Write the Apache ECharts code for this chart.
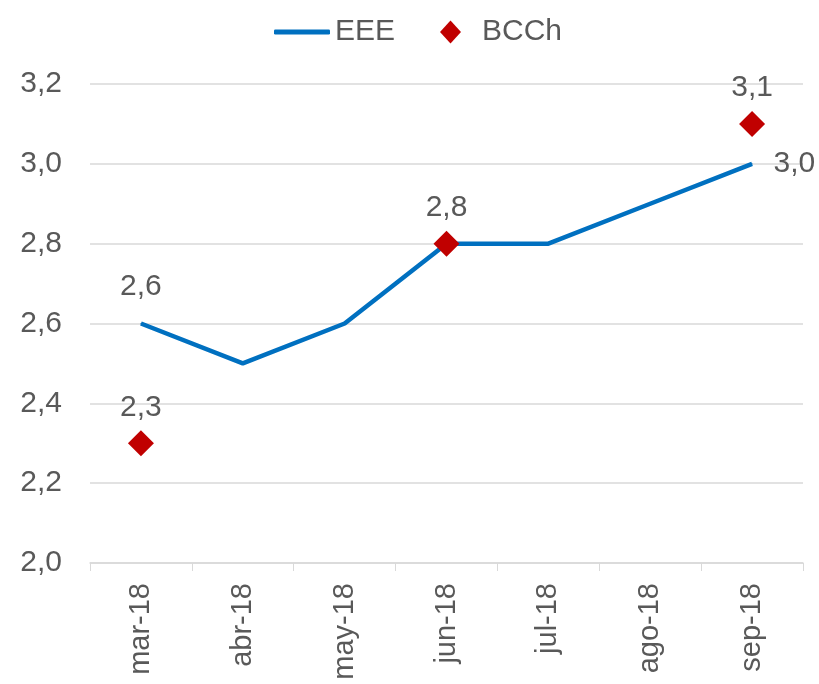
<!DOCTYPE html>
<html>
<head>
<meta charset="utf-8">
<script src="https://cdn.jsdelivr.net/npm/echarts@6/dist/echarts.min.js"></script>
<style>
  html, body { margin: 0; padding: 0; background: #fff; }
  #chart { width: 819px; height: 684px; }
</style>
</head>
<body>
<div id="chart"></div>
<script>
// datos del gráfico
const meses = ['mar-18', 'abr-18', 'may-18', 'jun-18', 'jul-18', 'ago-18', 'sep-18'];
const eee = [2.6, 2.5, 2.6, 2.8, 2.8, 2.9, 3.0];
const bcch = [2.3, null, null, 2.8, null, null, 3.1];
const eeeEtiquetas = [true, false, false, false, false, false, true];

const fuente = 'Liberation Sans, Arial, sans-serif';
const gris = '#595959';
const fmt = (v) => v.toFixed(1).replace('.', ',');

const chart = echarts.init(document.getElementById('chart'));

const option = {
  animation: false,
  textStyle: { fontFamily: fuente },
  legend: [
    {
      left: 269,
      top: 12,
      itemWidth: 56,
      itemHeight: 5,
      textStyle: { fontSize: 30, color: gris, fontFamily: fuente },
      data: [{ name: 'EEE', icon: 'roundRect' }]
    },
    {
      left: 435,
      top: 12,
      itemWidth: 21,
      itemHeight: 23,
      textStyle: { fontSize: 30, color: gris, fontFamily: fuente, padding: [0, 0, 0, 16] },
      data: [{ name: 'BCCh', icon: 'diamond' }]
    }
  ],
  grid: { left: 90, right: 16, top: 84, bottom: 121 },
  xAxis: {
    type: 'category',
    data: meses,
    boundaryGap: true,
    axisLine: { lineStyle: { color: '#d9d9d9', width: 1.5 } },
    axisTick: { show: true, length: 8, lineStyle: { color: '#d9d9d9' } },
    axisLabel: {
      rotate: 90,
      margin: 20,
      fontSize: 29,
      color: gris,
      fontFamily: fuente
    }
  },
  yAxis: {
    type: 'value',
    min: 2.0,
    max: 3.2,
    interval: 0.2,
    axisLine: { show: false },
    axisTick: { show: false },
    splitLine: { lineStyle: { color: '#d9d9d9', width: 1.5 } },
    axisLabel: {
      fontSize: 30,
      color: gris,
      margin: 28,
      fontFamily: fuente,
      formatter: (v) => fmt(v)
    }
  },
  series: [
    {
      name: 'EEE',
      type: 'line',
      data: eee.map((v, i) => ({
        value: v,
        label: eeeEtiquetas[i] ? {
          show: true,
          position: i === meses.length - 1 ? 'right' : 'top',
          distance: 21
        } : { show: false }
      })),
      symbol: 'circle',
      symbolSize: 1,
      showSymbol: true,
      lineStyle: { color: '#0070c0', width: 4.5 },
      itemStyle: { color: '#0070c0' },
      label: {
        fontSize: 30,
        color: gris,
        formatter: (p) => fmt(p.value)
      },
      z: 2
    },
    {
      name: 'BCCh',
      type: 'scatter',
      data: bcch,
      symbol: 'diamond',
      symbolSize: 26,
      itemStyle: { color: '#c00000', opacity: 1 },
      label: {
        show: true,
        position: 'top',
        distance: 8,
        fontSize: 30,
        color: gris,
        formatter: (p) => fmt(p.value)
      },
      z: 3
    }
  ]
};

chart.setOption(option);
</script>
</body>
</html>
